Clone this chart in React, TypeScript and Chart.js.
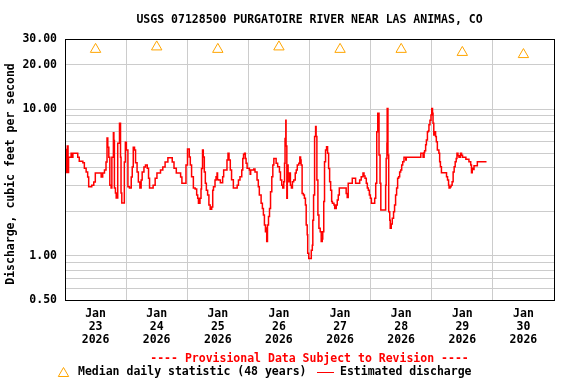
import React, { useEffect, useRef } from "react";
import { Chart, registerables } from "chart.js";

Chart.register(...registerables);

// ---- data ----
const titleText = "USGS 07128500 PURGATOIRE RIVER NEAR LAS ANIMAS, CO";
const yAxisTitle = "Discharge, cubic feet per second";
const provisionalText = "---- Provisional Data Subject to Revision ----";
const medianLegend = "Median daily statistic (48 years)";
const dischargeLegend = "Estimated discharge";

const monthLabel = "Jan";
const yearLabel = "2026";
const dayLabels = ["23", "24", "25", "26", "27", "28", "29", "30"];

// daily median statistic, one per day (cfs)
const medianValues = [25.5, 26.5, 25.5, 26.5, 25.5, 25.5, 24.3, 23.5];

// hours since Jan 23 00:00
const hours = [
  0.0, 0.2, 0.4, 0.6, 0.8, 0.9, 1.2, 1.4, 2.4, 3.0, 3.1, 5.0, 5.6, 7.0, 7.6, 8.3, 8.9, 9.3, 10.5, 11.3,
  11.9, 14.2, 14.8, 15.5, 16.1, 16.5, 16.8, 17.2, 17.6, 18.1, 18.4, 19.0, 19.2, 19.4, 19.8, 20.1, 20.7, 21.4, 21.8, 22.0,
  22.3, 23.3, 23.7, 24.1, 24.7, 25.3, 26.0, 26.4, 26.8, 27.3, 27.7, 28.3, 28.8, 29.4, 29.9, 30.3, 31.0, 31.6, 32.3, 32.8,
  33.2, 34.6, 35.4, 36.1, 37.5, 38.4, 39.3, 40.4, 42.1, 42.8, 43.7, 45.4, 45.9, 47.5, 48.1, 48.8, 49.2, 49.7, 50.4, 51.1,
  51.7, 52.1, 52.4, 53.0, 53.4, 53.6, 54.0, 54.3, 54.7, 55.1, 55.5, 56.0, 56.5, 57.0, 57.6, 58.0, 58.3, 58.9, 59.3, 59.7,
  59.9, 60.3, 61.0, 61.9, 62.3, 63.6, 64.0, 64.4, 64.9, 65.4, 66.1, 67.6, 68.1, 68.7, 69.4, 69.8, 70.1, 70.5, 70.8, 71.1,
  71.5, 72.4, 72.7, 72.9, 74.1, 74.6, 75.4, 75.9, 76.3, 77.0, 77.5, 77.9, 78.3, 78.7, 79.0, 79.2, 79.5, 79.9, 80.3, 80.7,
  81.2, 81.6, 82.0, 82.9, 83.5, 84.2, 84.6, 85.1, 85.5, 85.9, 86.2, 86.4, 86.7, 86.8, 87.1, 87.3, 87.6, 87.9, 88.2, 88.5,
  88.9, 89.3, 89.8, 90.4, 90.8, 91.2, 91.8, 92.2, 92.5, 92.7, 93.1, 93.6, 94.0, 94.4, 94.7, 95.1, 95.3, 95.7, 96.7, 97.1,
  97.3, 97.6, 98.0, 98.4, 98.6, 98.9, 99.3, 99.7, 100.2, 100.6, 101.0, 101.2, 101.6, 101.9, 102.3, 102.7, 103.1, 103.5, 103.9, 104.3,
  104.7, 105.0, 105.6, 105.9, 106.5, 106.9, 107.3, 107.7, 110.4, 110.8, 111.2, 112.8, 114.1, 115.7, 116.3, 117.0, 117.4, 117.8, 118.3, 118.7,
  119.1, 119.5, 119.9, 120.3, 121.6, 122.0, 122.4, 122.8, 123.3, 123.7, 124.0, 125.9, 126.1, 126.4, 126.5, 126.8, 127.1, 127.5, 127.7, 128.1,
  128.5, 129.0, 129.4, 129.8, 130.2, 130.6, 131.0, 131.4, 131.8, 132.2, 132.6, 133.1, 133.8, 134.0, 139.7, 140.6, 141.0, 141.2, 141.6, 141.9,
  142.3, 142.7, 142.9, 143.3, 143.7, 144.0, 144.3, 144.5, 144.8, 145.2, 145.5, 145.8, 146.2, 146.8, 147.1, 147.4, 147.8, 149.8, 150.2, 150.6,
  150.8, 151.2, 151.6, 152.0, 152.4, 152.8, 153.2, 153.6, 153.9, 154.3, 154.7, 155.3, 155.7, 156.1, 157.4, 158.6, 159.3, 159.6, 159.9, 160.2,
  160.6, 161.9, 165.5,
];

// estimated discharge, cfs
const cfs = [
  5.3, 3.7, 5.3, 3.7, 4.7, 5.6, 3.7, 4.7, 5.0, 4.7, 5.0, 4.7, 4.4, 4.3, 3.95, 3.72, 3.44, 2.95, 3.03, 3.18,
  3.66, 3.44, 3.66, 3.84, 4.35, 6.35, 5.5, 4.7, 3.03, 2.9, 4.7, 6.9, 6.1, 2.9, 2.68, 2.48, 5.85, 8.0, 4.7, 2.68,
  2.29, 4.35, 5.95, 5.25, 2.95, 2.9, 3.44, 4.03, 5.5, 5.25, 4.3, 3.72, 3.18, 2.9, 3.28, 3.72, 4.03, 4.16, 3.95, 3.37,
  2.9, 3.03, 3.37, 3.66, 3.84, 4.03, 4.35, 4.65, 4.35, 3.95, 3.66, 3.44, 3.12, 4.15, 5.34, 4.72, 4.15, 3.45, 2.9, 2.85,
  2.6, 2.47, 2.28, 2.47, 2.85, 3.94, 5.26, 4.72, 3.73, 3.12, 2.8, 2.6, 2.22, 2.08, 2.15, 2.8, 2.96, 3.28, 3.45, 3.66,
  3.3, 3.28, 3.15, 3.45, 3.85, 4.5, 5.0, 4.5, 3.85, 3.3, 2.9, 3.03, 3.28, 3.45, 3.85, 4.6, 4.92, 5.0, 4.6, 4.27,
  3.95, 3.85, 3.6, 3.85, 3.9, 3.73, 3.28, 2.96, 2.6, 2.28, 2.1, 1.9, 1.62, 1.46, 1.55, 1.25, 1.62, 1.85, 2.1, 2.73,
  3.45, 4.15, 4.6, 4.27, 4.05, 3.73, 3.28, 3.03, 2.9, 3.2, 4.27, 6.3, 8.4, 5.6, 2.47, 4.15, 3.66, 3.2, 3.66, 3.03,
  2.9, 3.2, 3.28, 3.66, 3.85, 4.15, 4.27, 4.72, 4.5, 4.15, 2.66, 2.6, 2.47, 2.22, 1.62, 1.39, 1.04, 0.96, 1.09, 1.18,
  1.75, 2.6, 6.5, 7.6, 6.5, 3.28, 1.9, 1.54, 1.46, 1.25, 1.3, 1.46, 2.34, 4.38, 5.26, 5.54, 5.0, 3.94, 3.2, 2.8,
  2.34, 2.28, 2.22, 2.1, 2.22, 2.4, 2.6, 2.9, 2.66, 2.5, 3.12, 3.37, 3.12, 3.28, 3.45, 3.66, 3.5, 3.37, 3.12, 2.9,
  2.8, 2.6, 2.47, 2.28, 2.47, 3.12, 7.0, 9.35, 4.86, 3.12, 2.05, 3.03, 4.6, 5.84, 10.1, 4.86, 2.0, 1.75, 1.54, 1.65,
  1.8, 2.0, 2.22, 2.6, 2.9, 3.37, 3.45, 3.73, 3.84, 4.15, 4.38, 4.7, 4.5, 4.7, 5.0, 4.7, 5.05, 5.2, 5.7, 6.15,
  7.0, 7.1, 7.8, 8.4, 9.1, 10.1, 9.35, 8.0, 6.65, 7.0, 6.5, 5.98, 5.26, 5.0, 4.38, 4.05, 3.68, 3.45, 3.28, 3.03,
  2.9, 2.95, 3.03, 3.2, 3.73, 4.05, 4.38, 4.6, 5.0, 4.8, 4.7, 5.0, 4.85, 4.7, 4.54, 4.38, 4.15, 3.68, 3.95, 3.88,
  4.1, 4.38, 4.38,
];

const yTickValues = [0.5, 0.6, 0.7, 0.8, 0.9, 1, 2, 3, 4, 5, 6, 7, 8, 9, 10, 20, 30];
const yLabeledTicks = [0.5, 1, 10, 20, 30];

// ---- styling ----
const FONT_FAMILY = "'DejaVu Sans Mono', 'Liberation Mono', monospace";
const FONT_SIZE = 11.5;
const FONT = `bold ${FONT_SIZE}px ${FONT_FAMILY}`;
const RED = "#ff0000";
const ORANGE = "#ffa500";
const GRID = "#cccccc";

const HOURS_PER_DAY = 24;

function drawTriangle(ctx: CanvasRenderingContext2D, cx: number, cy: number, r: number) {
  ctx.beginPath();
  ctx.moveTo(cx, cy - r);
  ctx.lineTo(cx + r * 0.866, cy + r * 0.5);
  ctx.lineTo(cx - r * 0.866, cy + r * 0.5);
  ctx.closePath();
  ctx.stroke();
}

const decorPlugin = {
  id: "usgsDecor",
  afterDraw(chart: any) {
    const ctx: CanvasRenderingContext2D = chart.ctx;
    const { left, right, top, bottom } = chart.chartArea;
    ctx.save();
    // frame
    ctx.strokeStyle = "#000";
    ctx.lineWidth = 1;
    ctx.strokeRect(Math.round(left) + 0.5, Math.round(top) + 0.5, Math.round(right - left), Math.round(bottom - top));

    ctx.font = FONT;
    ctx.fillStyle = "#000";
    ctx.textBaseline = "middle";
    ctx.textAlign = "center";
    const cx = (left + right) / 2;
    ctx.fillText(titleText, cx, 20);

    // provisional line
    ctx.fillStyle = RED;
    ctx.fillText(provisionalText, cx, 359);

    // legend row
    ctx.textAlign = "left";
    ctx.strokeStyle = ORANGE;
    ctx.lineWidth = 1;
    drawTriangle(ctx, 63.5, 373.5, 6);
    ctx.fillStyle = "#000";
    ctx.fillText(medianLegend, 78, 372.5);
    ctx.strokeStyle = RED;
    ctx.beginPath();
    ctx.moveTo(317, 372.5);
    ctx.lineTo(334, 372.5);
    ctx.stroke();
    ctx.fillText(dischargeLegend, 340, 372.5);

    // y axis title
    ctx.translate(11.5, 174);
    ctx.rotate(-Math.PI / 2);
    ctx.textAlign = "center";
    ctx.fillText(yAxisTitle, 0, 0);
    ctx.restore();
  },
};

export default function App() {
  const canvasRef = useRef<HTMLCanvasElement | null>(null);

  useEffect(() => {
    document.body.style.margin = "0";
    const canvas = canvasRef.current;
    if (!canvas) return;

    const dischargePoints = hours.map((h, i) => ({ x: h, y: cfs[i] }));
    const medianPoints = medianValues.map((v, i) => ({ x: i * HOURS_PER_DAY + HOURS_PER_DAY / 2, y: v }));
    const xTickValues: number[] = [];
    for (let h = 0; h <= dayLabels.length * HOURS_PER_DAY; h += HOURS_PER_DAY / 2) xTickValues.push(h);

    const chart = new Chart(canvas, {
      type: "line",
      data: {
        datasets: [
          {
            label: dischargeLegend,
            data: dischargePoints,
            borderColor: RED,
            borderWidth: 1.5,
            pointRadius: 0,
            stepped: true,
            fill: false,
            tension: 0,
          },
          {
            label: medianLegend,
            data: medianPoints,
            showLine: false,
            pointStyle: "triangle",
            pointRadius: 6,
            pointBorderColor: ORANGE,
            pointBackgroundColor: "rgba(0,0,0,0)",
            pointBorderWidth: 1,
          },
        ],
      },
      options: {
        animation: false,
        responsive: false,
        events: [],
        layout: { padding: { top: 39, right: 22, left: 0, bottom: 0 } },
        plugins: {
          legend: { display: false },
          title: { display: false },
          tooltip: { enabled: false },
        },
        scales: {
          x: {
            type: "linear",
            min: 0,
            max: dayLabels.length * HOURS_PER_DAY,
            afterFit: (scale: any) => {
              scale.height = 84;
            },
            afterBuildTicks: (scale: any) => {
              scale.ticks = xTickValues.map((v) => ({ value: v }));
            },
            grid: {
              drawTicks: false,
              lineWidth: 1,
              color: (ctx: any) =>
                ctx.tick && ctx.tick.value % HOURS_PER_DAY === 0 ? GRID : "rgba(0,0,0,0)",
            },
            border: { display: false },
            ticks: {
              autoSkip: false,
              maxRotation: 0,
              padding: 8,
              color: "#000",
              font: { family: FONT_FAMILY, size: FONT_SIZE, weight: "bold", lineHeight: "13px" },
              callback: (value: any) => {
                const v = Number(value);
                if (v % HOURS_PER_DAY === 0) return "";
                const idx = Math.floor(v / HOURS_PER_DAY);
                return [monthLabel, dayLabels[idx], yearLabel];
              },
            },
          },
          y: {
            type: "logarithmic",
            min: 0.5,
            max: 30,
            afterFit: (scale: any) => {
              scale.width = 65;
            },
            afterBuildTicks: (scale: any) => {
              scale.ticks = yTickValues.map((v) => ({ value: v }));
            },
            grid: { drawTicks: false, color: GRID, lineWidth: 1 },
            border: { display: false },
            ticks: {
              autoSkip: false,
              padding: 8,
              color: "#000",
              font: { family: FONT_FAMILY, size: FONT_SIZE, weight: "bold" },
              callback: (value: any) => {
                const v = Number(value);
                return yLabeledTicks.some((t) => Math.abs(t - v) < 1e-9) ? v.toFixed(2) : "";
              },
            },
          },
        },
      },
      plugins: [decorPlugin],
    } as any);

    return () => {
      chart.destroy();
    };
  }, []);

  return (
    <div style={{ width: 576, height: 384, background: "#fff" }}>
      <canvas ref={canvasRef} width={576} height={384} style={{ display: "block" }} />
    </div>
  );
}
